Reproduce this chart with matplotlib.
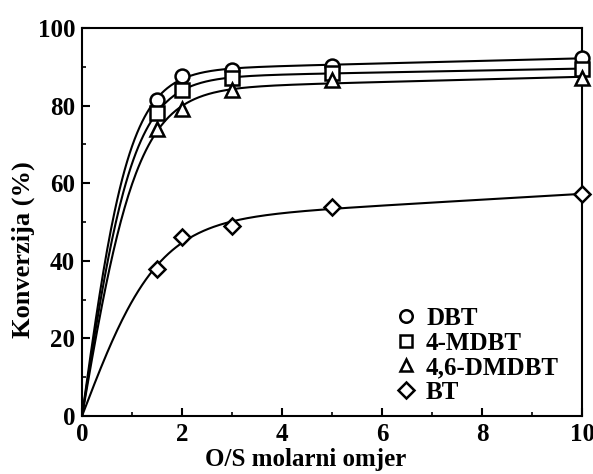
import numpy as np
import matplotlib
matplotlib.use("Agg")
import matplotlib.pyplot as plt

# Data
x_ratio = [1.5, 2.0, 3.0, 5.0, 10.0]
dbt = [81.5, 87.7, 89.2, 90.3, 92.3]
mdbt = [78.2, 84.0, 87.0, 88.5, 89.5]
dmdbt = [74.0, 79.0, 84.0, 86.5, 87.2]
bt = [38.0, 46.2, 49.0, 53.8, 57.2]
series_names = ["DBT", "4-MDBT", "4,6-DMDBT", "BT"]
series_markers = ["o", "s", "^", "D"]
xticks = [0, 2, 4, 6, 8, 10]
yticks = [0, 20, 40, 60, 80, 100]

plt.rcParams['font.family'] = ['Liberation Serif', 'DejaVu Serif']
plt.rcParams['font.weight'] = 'bold'


def fit_curve(x, y):
    x = np.asarray([0.0] + list(x))
    y = np.asarray([0.0] + list(y))
    best = None
    for k in np.linspace(0.2, 4.0, 381):
        A = np.column_stack([np.tanh(k * x), x])
        coef, *_ = np.linalg.lstsq(A, y, rcond=None)
        err = np.sum((A @ coef - y) ** 2)
        if best is None or err < best[0]:
            best = (err, k, coef)
    _, k, (a, c) = best
    xs = np.linspace(0, 10, 400)
    return xs, a * np.tanh(k * xs) + c * xs


fig = plt.figure(figsize=(5.93, 4.74), dpi=100)
ax = fig.add_axes([0.1383, 0.1224, 0.8432, 0.8185])

all_series = [dbt, mdbt, dmdbt, bt]
for vals, name, m in zip(all_series, series_names, series_markers):
    xs, ys = fit_curve(x_ratio, vals)
    ax.plot(xs, ys, color='black', lw=1.5, zorder=2)
    ms = 10 if m != 'D' else 8.5
    ax.plot(x_ratio, vals, linestyle='none', marker=m, markersize=ms,
            markerfacecolor='white', markeredgecolor='black',
            markeredgewidth=1.8, label=name, zorder=3, clip_on=False)

ax.set_xlim(0, 10)
ax.set_ylim(0, 100)
ax.set_xticks(xticks)
ax.set_yticks(yticks)
ax.set_xticks(np.arange(1, 10, 2), minor=True)
ax.set_yticks(np.arange(10, 100, 20), minor=True)
ax.tick_params(which='major', direction='in', length=6, width=1.5,
               labelsize=18, pad=5)
ax.tick_params(which='minor', direction='in', length=3, width=1.2)
for lab in ax.get_xticklabels() + ax.get_yticklabels():
    lab.set_fontweight('bold')
for sp in ax.spines.values():
    sp.set_linewidth(1.5)

ax.set_xlabel("O/S molarni omjer", fontsize=18, fontweight='bold')
ax.xaxis.set_label_coords(0.448, -0.083)
ax.set_ylabel("Konverzija (%)", fontsize=19, fontweight='bold')
ax.yaxis.set_label_coords(-0.094, 0.428)

leg = ax.legend(loc='center left', bbox_to_anchor=(0.623, 0.156), frameon=False,
                prop={'weight': 'bold', 'size': 18}, handletextpad=0.3,
                labelspacing=0.06, handlelength=1.0, markerscale=0.9,
                borderpad=0, borderaxespad=0)

fig.savefig("out.png", dpi=100)
